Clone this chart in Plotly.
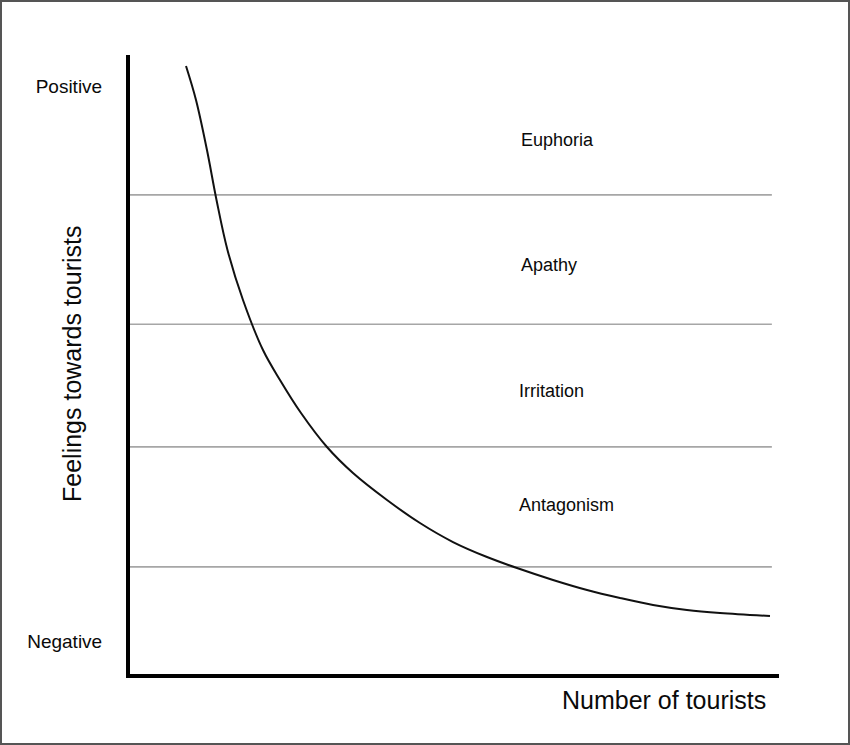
import plotly.graph_objects as go

# ---- data (arbitrary units: 0-100 on both axes) ----
curve_x = [8.63, 10.17, 11.86, 13.33, 15.02, 17.41, 20.49, 23.11, 26.35, 30.35, 34.36,
           39.6, 44.68, 49.77, 55.01, 59.63, 65.18, 70.42, 75.5, 80.59, 85.82, 90.91, 98.61]
curve_y = [98.22, 92.73, 84.65, 76.58, 68.5, 60.42, 52.34, 47.5, 42.16, 36.67, 32.47,
           28.11, 24.39, 21.32, 18.9, 17.12, 15.19, 13.57, 12.28, 11.15, 10.34, 9.85, 9.37]

band_bounds = [77.4, 56.5, 36.7, 17.3]
band_line_end = 98.9

zone_labels = ["Euphoria", "Apathy", "Irritation", "Antagonism"]
zone_label_x = [60.0, 60.0, 59.7, 59.7]
zone_label_y = [86.3, 66.1, 45.7, 27.3]

y_tick_vals = [95.0, 5.2]
y_tick_text = ["Positive", "Negative"]

x_title = "Number of tourists"
y_title = "Feelings towards tourists"

FONT = "Liberation Sans, Arial, sans-serif"
TXT = "#0a0a0a"

fig = go.Figure()

# band boundary lines
for b in band_bounds:
    fig.add_trace(go.Scatter(x=[0, band_line_end], y=[b, b], mode="lines",
                             line=dict(color="#a6a6a6", width=1.6),
                             hoverinfo="skip", showlegend=False))

# curve
fig.add_trace(go.Scatter(x=curve_x, y=curve_y, mode="lines",
                         line=dict(color="#111111", width=2, shape="spline", smoothing=1.0),
                         showlegend=False))

for t, x, y in zip(zone_labels, zone_label_x, zone_label_y):
    fig.add_annotation(x=x, y=y, text=t, showarrow=False, xanchor="left", yanchor="middle",
                       font=dict(family=FONT, size=18, color=TXT))

W, H = 850, 745
L, R, T, B = 130, 71, 55, 71
pw, ph = W - L - R, H - T - B

def px_to_paper_x(px):
    return (px - L) / pw

def py_to_paper_y(py):
    return (H - B - py) / ph

# axis titles
fig.add_annotation(xref="paper", yref="paper", x=px_to_paper_x(768), y=py_to_paper_y(700),
                   text=x_title, showarrow=False, xanchor="right", yanchor="middle",
                   font=dict(family=FONT, size=25, color=TXT))
fig.add_annotation(xref="paper", yref="paper", x=px_to_paper_x(72), y=py_to_paper_y(364),
                   text=y_title, showarrow=False, textangle=-90, xanchor="center", yanchor="middle",
                   font=dict(family=FONT, size=25, color=TXT))

# outer border
fig.add_shape(type="rect", xref="paper", yref="paper",
              x0=px_to_paper_x(1), x1=px_to_paper_x(849),
              y0=py_to_paper_y(744), y1=py_to_paper_y(1),
              line=dict(color="#555555", width=2), fillcolor="rgba(0,0,0,0)", layer="below")

fig.update_xaxes(range=[0, 100], showgrid=False, zeroline=False, showticklabels=False,
                 ticks="", showline=True, linecolor="#000000", linewidth=4, fixedrange=True)
fig.update_yaxes(range=[0, 100], showgrid=False, zeroline=False,
                 tickmode="array", tickvals=y_tick_vals, ticktext=y_tick_text,
                 ticks="", ticklabelstandoff=20,
                 tickfont=dict(family=FONT, size=19, color=TXT),
                 showline=True, linecolor="#000000", linewidth=4, fixedrange=True)

fig.update_layout(width=W, height=H, margin=dict(l=L, r=R, t=T, b=B),
                  paper_bgcolor="white", plot_bgcolor="white", showlegend=False)

fig.write_html("out.html", config={"displayModeBar": False},
               post_script="document.body.style.margin='0px';")
